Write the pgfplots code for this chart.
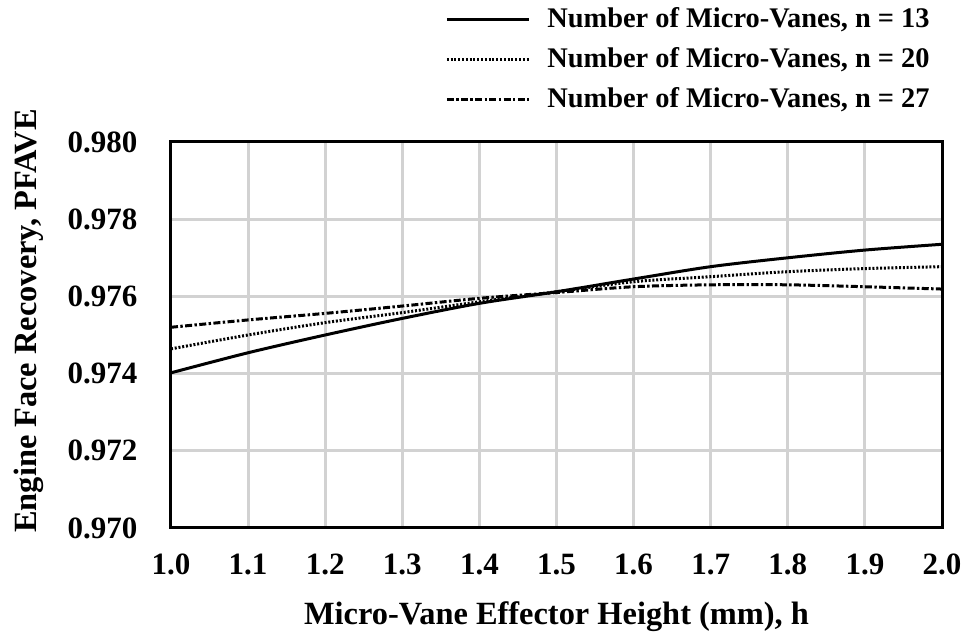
\documentclass[border=0pt]{standalone}
\usepackage{pgfplots}
\pgfplotsset{compat=1.18}
\usepackage{fontspec}
\setmainfont{Liberation Serif}
\definecolor{gridgray}{RGB}{210,210,210}
\begin{document}
\begin{tikzpicture}
\useasboundingbox (-85.5pt,-53.5pt) rectangle (398.5pt,264pt);
\begin{axis}[
  at={(0pt,0pt)}, anchor=south west,
  width=385.5pt, height=193pt, scale only axis,
  xmin=1.0, xmax=2.0, ymin=0.970, ymax=0.980,
  xtick={1.0,1.1,1.2,1.3,1.4,1.5,1.6,1.7,1.8,1.9,2.0},
  xticklabels={1.0,1.1,1.2,1.3,1.4,1.5,1.6,1.7,1.8,1.9,2.0},
  ytick={0.970,0.972,0.974,0.976,0.978,0.980},
  yticklabels={0.970,0.972,0.974,0.976,0.978,0.980},
  major tick length=0pt,
  grid=major,
  major grid style={draw=gridgray, line width=1.5pt},
  axis line style={line width=1.5pt},
  xticklabel style={yshift=-8.7pt, text height=11pt, text depth=0pt},
  yticklabel style={xshift=-13.3pt},
  tick label style={font=\fontsize{15.5}{18}\selectfont\bfseries},
  label style={font=\fontsize{16.2}{19}\selectfont\bfseries},
  xlabel={Micro-Vane Effector Height (mm), h},
  ylabel={Engine Face Recovery, PFAVE},
  xlabel style={yshift=-6.5pt},
  ylabel style={yshift=5pt, xshift=7pt},
  legend style={draw=none, fill=none, at={(1,1)}, anchor=south east, yshift=13.5pt, xshift=-4pt,
    font=\fontsize{14.2}{17}\selectfont\bfseries, row sep=4.5pt, inner sep=0pt,
    /tikz/every odd column/.append style={column sep=6.5pt}},
  legend cell align=left,
  legend image code/.code={\draw[#1, line width=1.5pt] (0pt,0pt) -- (41pt,0pt);},
]
\addplot[black, line width=1.5pt, smooth] table {
x y
1.0 0.97402
1.1 0.97454
1.2 0.97500
1.3 0.97543
1.4 0.97582
1.5 0.97612
1.6 0.97645
1.7 0.97677
1.8 0.97700
1.9 0.97720
2.0 0.97735
};
\addlegendentry{Number of Micro-Vanes, n = 13}
\addplot[black, line width=1.5pt, smooth, dash pattern=on 1pt off 0.9pt] table {
x y
1.0 0.97464
1.1 0.97500
1.2 0.97532
1.3 0.97558
1.4 0.97586
1.5 0.97612
1.6 0.97638
1.7 0.97651
1.8 0.97664
1.9 0.97672
2.0 0.97677
};
\addlegendentry{Number of Micro-Vanes, n = 20}
\addplot[black, line width=1.5pt, smooth, dash pattern=on 3.5pt off 1.2pt on 1.2pt off 1.2pt] table {
x y
1.0 0.97520
1.1 0.97539
1.2 0.97556
1.3 0.97575
1.4 0.97595
1.5 0.97610
1.6 0.97625
1.7 0.97630
1.8 0.97630
1.9 0.97625
2.0 0.97619
};
\addlegendentry{Number of Micro-Vanes, n = 27}
\end{axis}
\end{tikzpicture}
\end{document}
